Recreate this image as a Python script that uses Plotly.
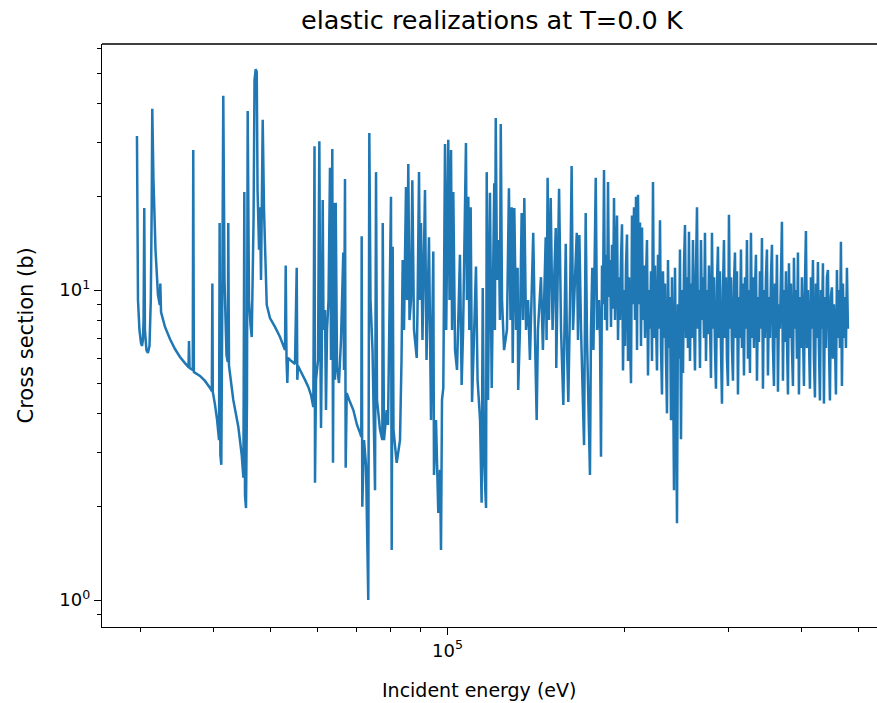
import plotly.graph_objects as go

# ---- data (energy in keV, cross section in barns) ----
energy_low_kev = [
    29.64, 29.76, 29.93, 30.11, 30.23, 30.34, 30.42, 30.50, 30.58, 30.76,
    30.94, 31.13, 31.29, 31.41, 31.47, 31.62, 31.87, 32.18, 32.41, 32.48,
    32.57, 33.08, 33.73, 34.40, 35.08, 35.77, 36.27, 36.34, 36.42, 36.88,
    36.95, 37.04, 37.94, 38.69, 39.46, 39.74, 39.82, 39.89, 40.24, 40.56,
    40.88, 40.97, 41.09, 41.24, 41.40, 41.56, 41.76, 42.09, 42.30, 42.38,
    42.50, 43.22, 44.08, 44.67, 44.97, 45.13, 45.25, 45.43, 45.60, 45.73,
    45.96, 46.24, 46.46, 46.79, 46.97, 47.19, 47.38, 47.53, 47.81, 47.99,
    48.18, 48.50, 48.75, 49.27, 49.90, 50.89, 51.90, 52.93, 53.07, 53.24,
    53.41, 53.55, 53.97, 55.04, 55.41, 55.54, 55.69, 56.13, 57.24, 57.98,
    58.60, 59.13, 59.41, 59.52, 59.76, 60.23, 60.54, 60.75, 60.94, 61.13,
    61.35, 61.54, 61.90, 62.14, 62.39, 62.76, 63.12, 63.37, 63.69, 63.87,
    64.12, 64.37, 64.55, 64.88, 65.38, 65.90, 66.49, 66.68, 66.94, 67.12,
    67.39, 68.27, 69.16, 70.17, 70.99, 71.35, 71.46, 71.63, 72.11, 72.68,
    73.33, 73.63, 73.97, 74.56, 75.29, 75.59, 75.88, 76.78, 77.48, 77.60,
    77.99, 78.82, 79.22, 80.15, 80.37, 80.69, 80.94, 81.96, 83.03, 83.52,
    83.91, 84.34, 85.00, 85.34, 85.77, 86.18, 86.69, 87.13, 87.71, 88.65,
    88.92, 89.45, 89.79, 90.14, 90.67, 91.57, 92.11, 93.01, 93.75, 94.59,
    94.85, 95.60, 96.46, 97.11, 97.49, 97.87, 98.37, 99.03, 99.50, 100.3,
    100.8, 101.4, 101.8, 102.3, 103.0, 103.8, 105.0, 105.7, 106.3, 107.5,
    107.9, 108.5, 108.9, 109.5, 110.1, 110.9, 111.8, 112.5, 113.6, 114.3,
    114.8, 115.4, 116.3, 116.6, 117.2, 118.1, 118.9, 120.1, 120.4, 120.8,
    121.4, 122.3, 122.8, 123.2, 123.8, 124.8, 126.2, 127.2, 128.0, 128.6,
    129.1, 129.9, 130.8, 131.6, 131.9, 132.8, 133.7, 134.4, 135.1, 136.0,
    137.1, 138.1, 139.9, 140.9, 141.8, 142.5, 144.2, 145.3, 146.9, 147.4,
    148.0, 148.8, 149.8, 150.9, 152.8, 153.1, 154.8, 156.0, 157.4, 158.9,
    159.7, 160.5, 161.6, 162.6, 163.5, 165.9, 166.7, 167.6, 168.7, 170.7,
    171.8, 172.7, 174.7, 175.4, 176.3, 177.1, 178.7, 179.6, 181.0,
]
xs_low_b = [
    31.4, 9.28, 7.43, 6.75, 6.60, 6.90, 8.00, 18.4, 7.43, 6.40,
    6.26, 6.60, 9.28, 19.5, 38.4, 22.6, 13.5, 9.64, 8.95, 10.5,
    8.49, 7.60, 6.95, 6.45, 6.08, 5.81, 5.64, 6.85, 5.60, 5.52,
    28.3, 5.44, 5.28, 5.09, 4.83, 4.72, 10.5, 4.69, 4.26, 3.81,
    3.28, 16.45, 2.94, 2.73, 9.28, 42.3, 10.77, 6.17, 5.86, 16.45,
    5.70, 4.42, 3.62, 2.94, 2.48, 20.7, 2.18, 1.98, 4.42, 37.8,
    9.28, 7.71, 7.05, 16.8, 47.6, 51.6, 50.5, 21.0, 13.5, 18.5,
    10.77, 35.4, 18.1, 8.95, 8.12, 7.60, 7.05, 6.40, 12.0, 5.95,
    5.01, 6.04, 5.95, 5.77, 11.8, 5.13, 5.69, 5.52, 5.13, 4.87,
    4.58, 4.19, 29.1, 2.39, 5.13, 5.95, 30.2, 7.43, 3.59, 6.40,
    19.5, 7.43, 8.62, 4.10, 7.43, 9.28, 24.8, 5.95, 28.5, 2.77,
    19.1, 5.13, 19.1, 5.64, 5.01, 6.90, 13.2, 5.52, 22.8, 2.67,
    4.65, 4.35, 4.10, 3.67, 3.46, 3.36, 14.9, 2.00, 3.28, 2.73,
    1.00, 32.1, 9.28, 6.40, 2.26, 24.0, 4.42, 3.54, 3.28, 16.45,
    3.28, 4.10, 3.67, 20.0, 1.45, 13.8, 3.54, 2.77, 3.28, 5.95,
    12.5, 7.43, 21.5, 9.28, 25.5, 8.00, 9.28, 22.6, 7.43, 6.04,
    8.62, 24.0, 9.28, 16.45, 6.90, 21.0, 5.95, 14.8, 3.81, 13.3,
    2.53, 3.81, 1.91, 2.63, 1.45, 4.42, 4.83, 29.6, 7.43, 30.5,
    9.28, 28.3, 7.43, 20.7, 6.40, 5.52, 13.0, 4.94, 7.43, 29.8,
    9.28, 20.0, 7.43, 18.5, 4.35, 6.90, 11.9, 5.13, 3.81, 2.06,
    10.15, 2.83, 1.98, 24.0, 4.42, 20.6, 4.83, 22.1, 7.43, 35.9,
    10.77, 14.5, 8.00, 34.3, 9.28, 6.40, 7.43, 21.3, 8.00, 18.5,
    5.81, 18.4, 7.43, 11.8, 4.76, 7.43, 17.7, 8.00, 19.8, 7.43,
    9.28, 5.95, 15.3, 6.90, 3.81, 7.43, 11.0, 6.40, 14.8, 6.90,
    23.0, 8.00, 19.8, 7.43, 15.85, 5.60, 21.2, 7.43, 4.26, 14.1,
    6.40, 4.35, 9.28, 25.1, 7.43, 15.3, 6.90, 15.05, 7.43, 3.16,
    17.7, 6.90, 2.53, 7.43, 11.8, 6.40, 23.0, 7.43, 9.28,
]

energy_high_kev = [
    181.71, 182.42, 183.14, 183.86, 184.58, 185.30, 186.03, 186.76, 187.50, 188.23,
    188.97, 189.71, 190.46, 191.21, 191.96, 192.71, 193.47, 194.22, 194.99, 195.75,
    196.51, 197.28, 198.06, 198.84, 199.62, 200.40, 201.19, 201.98, 202.77, 203.56,
    204.36, 205.16, 205.96, 206.77, 207.58, 208.40, 209.22, 210.04, 210.86, 211.69,
    212.52, 213.35, 214.19, 215.03, 215.87, 216.72, 217.57, 218.42, 219.28, 220.14,
    221.00, 221.87, 222.74, 223.61, 224.49, 225.37, 226.25, 227.14, 228.03, 228.93,
    229.83, 230.73, 231.63, 232.54, 233.45, 234.37, 235.29, 236.21, 237.14, 238.07,
    239.00, 239.94, 240.88, 241.83, 242.77, 243.73, 244.68, 245.64, 246.61, 247.57,
    248.54, 249.52, 250.50, 251.48, 252.47, 253.46, 254.45, 255.45, 256.45, 257.46,
    258.46, 259.48, 260.50, 261.52, 262.54, 263.57, 264.61, 265.65, 266.69, 267.73,
    268.78, 269.84, 270.90, 271.96, 273.03, 274.10, 275.17, 276.25, 277.34, 278.43,
    279.51, 280.61, 281.71, 282.81, 283.92, 285.04, 286.15, 287.28, 288.40, 289.53,
    290.67, 291.81, 292.95, 294.10, 295.26, 296.41, 297.58, 298.74, 299.92, 301.09,
    302.27, 303.46, 304.65, 305.84, 307.04, 308.25, 309.46, 310.67, 311.89, 313.11,
    314.34, 315.57, 316.81, 318.05, 319.30, 320.55, 321.81, 323.07, 324.34, 325.61,
    326.89, 328.17, 329.46, 330.75, 332.05, 333.35, 334.66, 335.97, 337.29, 338.61,
    339.94, 341.27, 342.61, 343.96, 345.30, 346.66, 348.02, 349.38, 350.75, 352.13,
    353.51, 354.90, 356.29, 357.69, 359.09, 360.50, 361.91, 363.33, 364.76, 366.19,
    367.62, 369.06, 370.51, 371.96, 373.42, 374.89, 376.36, 377.84, 379.32, 380.81,
    382.30, 383.80, 385.30, 386.81, 388.33, 389.86, 391.38, 392.92, 394.46, 396.01,
    397.56, 399.12, 400.69, 402.26, 403.84, 405.42, 407.01, 408.61, 410.21, 411.82,
    413.43, 415.05, 416.68, 418.32, 419.96, 421.61, 423.26, 424.92, 426.59, 428.26,
    429.94, 431.63, 433.32, 435.02, 436.73, 438.44, 440.16, 441.89, 443.62, 445.36,
    447.11, 448.86, 450.62, 452.39, 454.17, 455.95, 457.74, 459.53, 461.33, 463.14,
    464.96, 466.78, 468.61, 470.45, 472.30, 474.15, 476.01, 477.88, 479.75,
]
xs_high_b = [
    7.0, 2.9, 12.0, 9.0, 24.4, 8.0, 13.0, 7.4, 22.3, 9.5,
    12.5, 7.6, 14.0, 8.7, 19.8, 8.0, 12.0, 17.4, 6.9, 11.0,
    8.0, 12.5, 16.3, 5.5, 10.0, 6.6, 12.0, 15.1, 5.9, 11.0,
    7.0, 5.0, 17.4, 9.0, 18.5, 8.0, 20.0, 6.4, 20.3, 9.0,
    16.5, 6.6, 15.9, 8.0, 12.0, 7.0, 11.0, 14.5, 5.3, 10.0,
    7.5, 11.5, 5.9, 22.3, 7.0, 12.0, 8.0, 5.5, 13.0, 7.5,
    16.8, 6.5, 4.6, 11.5, 7.0, 10.5, 6.0, 4.0, 12.5, 6.5,
    9.5, 3.8, 11.0, 6.0, 2.26, 11.8, 5.5, 1.77, 9.0, 6.0,
    13.5, 3.3, 10.0, 5.4, 12.0, 16.2, 7.0, 11.0, 6.5, 15.4,
    5.9, 10.5, 7.0, 14.5, 8.0, 5.5, 11.5, 18.5, 7.5, 10.0,
    5.6, 14.5, 8.0, 11.0, 7.0, 15.3, 5.9, 10.0, 7.2, 12.0,
    8.0, 5.2, 15.3, 7.5, 11.0, 6.5, 4.8, 10.5, 13.8, 7.0,
    11.5, 6.5, 4.3, 10.0, 14.5, 7.0, 11.0, 6.0, 4.9, 17.5,
    7.5, 11.0, 6.5, 5.1, 10.5, 13.2, 7.0, 11.5, 4.6, 9.5,
    7.0, 13.5, 6.5, 10.5, 5.3, 11.0, 7.5, 14.5, 6.0, 10.0,
    5.4, 15.3, 7.0, 11.0, 6.5, 10.0, 13.0, 5.1, 9.5, 6.8,
    11.5, 7.5, 14.7, 4.8, 10.0, 7.0, 11.0, 13.5, 5.3, 9.5,
    7.0, 11.0, 14.0, 6.5, 4.9, 10.5, 7.0, 13.0, 4.7, 9.0,
    7.5, 11.0, 16.6, 5.1, 10.0, 6.8, 11.5, 7.0, 4.6, 12.2,
    7.0, 10.5, 6.5, 4.9, 12.7, 7.5, 10.0, 6.0, 13.2, 4.6,
    9.5, 6.5, 11.0, 7.5, 4.9, 10.5, 15.5, 6.5, 10.0, 7.0,
    4.8, 11.0, 7.5, 12.5, 6.0, 4.5, 10.5, 7.0, 12.3, 6.5,
    4.4, 10.0, 7.5, 12.2, 4.3, 9.5, 6.5, 11.0, 11.6, 6.8,
    4.4, 9.5, 10.2, 6.0, 9.0, 7.0, 4.6, 11.6, 7.0, 10.0,
    6.5, 14.3, 4.9, 10.5, 7.0, 9.5, 6.5, 11.8, 7.5,
]

x_major_ticks = [1e5]
x_major_labels = ["10<sup>5</sup>"]
x_minor_ticks = [3e4, 4e4, 5e4, 6e4, 7e4, 8e4, 9e4, 2e5, 3e5, 4e5, 5e5]
y_major_ticks = [1, 10]
y_major_labels = ["10<sup>0</sup>", "10<sup>1</sup>"]
y_minor_ticks = [0.9, 2, 3, 4, 5, 6, 7, 8, 9, 20, 30, 40, 50, 60]

title_text = "elastic realizations at T=0.0 K"
x_title = "Incident energy (eV)"
y_title = "Cross section (b)"

energy_ev = [e * 1000 for e in energy_low_kev + energy_high_kev]
xs = xs_low_b + xs_high_b

FONT = "DejaVu Sans"

fig = go.Figure(
    go.Scatter(
        x=energy_ev, y=xs, mode="lines",
        line=dict(color="#1f77b4", width=2.5, simplify=False),
        showlegend=False, hoverinfo="skip",
    )
)

axis_common = dict(
    type="log", showline=True, linecolor="black", linewidth=1.4, mirror=False,
    ticks="outside", ticklen=7, tickwidth=1.4, tickcolor="black",
    showgrid=False, zeroline=False,
    tickfont=dict(family=FONT, size=18, color="black"),
)

fig.update_layout(
    width=877, height=703,
    margin=dict(l=102, r=0, t=44, b=76, pad=0),
    plot_bgcolor="white", paper_bgcolor="white",
    font=dict(family=FONT, color="black"),
    xaxis=dict(
        axis_common, range=[4.41242, 5.73046], tickmode="array",
        tickvals=x_major_ticks, ticktext=x_major_labels,
        minor=dict(tickmode="array", tickvals=x_minor_ticks, ticks="outside",
                   ticklen=4, tickwidth=1.1, tickcolor="black", showgrid=False),
    ),
    yaxis=dict(
        axis_common, range=[-0.0871, 1.79355], tickmode="array",
        tickvals=y_major_ticks, ticktext=y_major_labels,
        minor=dict(tickmode="array", tickvals=y_minor_ticks, ticks="outside",
                   ticklen=4, tickwidth=1.1, tickcolor="black", showgrid=False),
    ),
    shapes=[dict(type="line", xref="paper", yref="paper", x0=0, x1=1, y0=1, y1=1,
                 line=dict(color="black", width=1.4))],
    annotations=[
        dict(text=title_text, xref="paper", yref="paper", x=0.5045, y=1,
             yshift=24, xanchor="center", yanchor="middle", showarrow=False,
             font=dict(family=FONT, size=25.5, color="black")),
        dict(text=x_title, xref="paper", yref="paper", x=0.487, y=0,
             yshift=-63, xanchor="center", yanchor="middle", showarrow=False,
             font=dict(family=FONT, size=19, color="black")),
        dict(text=y_title, xref="paper", yref="paper", x=0, y=0.5,
             xshift=-77, xanchor="center", yanchor="middle", showarrow=False,
             textangle=-90, font=dict(family=FONT, size=21, color="black")),
    ],
)

fig.write_html("out.html")
